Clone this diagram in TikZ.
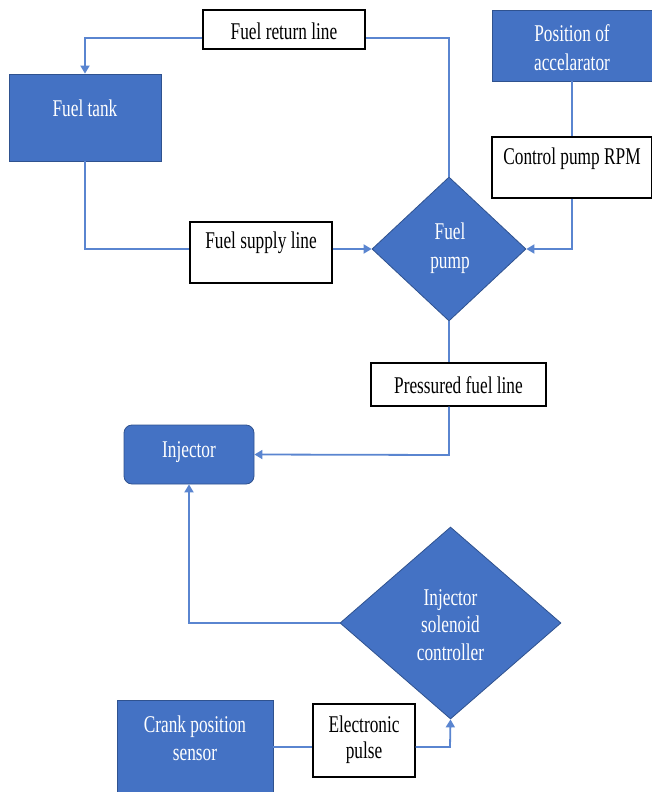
\documentclass[tikz,border=0pt]{standalone}
\usepackage{fontspec}
\newfontfamily\diagfont{Liberation Serif}[FakeStretch=0.72]
\usetikzlibrary{arrows.meta,shapes.geometric}
\definecolor{fillblue}{HTML}{4472C4}
\definecolor{edgeblue}{HTML}{2F528F}
\definecolor{lineblue}{HTML}{5A85D0}
\tikzset{
  bluebox/.style={draw=edgeblue, fill=fillblue, line width=0.8pt, inner sep=0pt},
  whitebox/.style={draw=black, fill=white, line width=1.2pt, inner sep=0pt},
  bluediam/.style={diamond, draw=edgeblue, fill=fillblue, line width=0.8pt, inner sep=0pt},
  wtext/.style={text=white, align=center, inner sep=0pt, font=\diagfont\fontsize{24}{29}\selectfont},
  btext/.style={text=black, align=center, inner sep=0pt, font=\diagfont\fontsize{24}{27}\selectfont},
  conn/.style={draw=lineblue, line width=1.8pt},
  arr/.style={conn, -{Triangle[length=8pt,width=9pt]}},
}
\begin{document}
\begin{tikzpicture}[x=1pt,y=-1pt]
\useasboundingbox (0,0) rectangle (651,792);
% boxes
\node[whitebox, minimum width=162pt, minimum height=39pt] (ret) at (284,29.5) {};
\node[btext] (rett) at (284,31) {Fuel return line};
\node[bluebox, minimum width=152pt, minimum height=87pt] (tank) at (85,117.5) {};
\node[wtext] (tankt) at (85,108) {Fuel tank};
\node[bluebox, minimum width=160pt, minimum height=71pt] (acc) at (572,45.5) {};
\node[wtext] (acct) at (572,48) {Position of\\accelarator};
\node[whitebox, minimum width=160pt, minimum height=61pt] (ctrl) at (572,167.5) {};
\node[btext] (ctrlt) at (572,159) {Control pump RPM};
\node[bluediam, minimum width=154pt, minimum height=144pt] (pump) at (449,249) {};
\node[wtext] (pumpt) at (450,248) {Fuel\\pump};
\node[whitebox, minimum width=142pt, minimum height=61pt] (sup) at (261,252.5) {};
\node[btext] (supt) at (261,243) {Fuel supply line};
\node[whitebox, minimum width=175pt, minimum height=43pt] (press) at (458.5,384.5) {};
\node[btext] (presst) at (458.5,385) {Pressured fuel line};
\node[bluebox, rounded corners=8pt, minimum width=130pt, minimum height=59pt] (inj) at (189,454.5) {};
\node[wtext] (injt) at (189,452) {Injector};
\node[bluediam, minimum width=221pt, minimum height=192pt] (iso) at (450.5,623) {};
\node[wtext, font=\diagfont\fontsize{24}{27.5}\selectfont] (isot) at (450.5,625) {Injector\\solenoid\\controller};
\node[bluebox, minimum width=156pt, minimum height=92pt] (crank) at (195,746) {};
\node[wtext, font=\diagfont\fontsize{24}{28}\selectfont] (crankt) at (195,738) {Crank position\\sensor};
\node[whitebox, minimum width=102pt, minimum height=73pt] (pulse) at (364,740.5) {};
\node[btext, font=\diagfont\fontsize{24}{26}\selectfont] (pulset) at (364,740) {Electronic\\pulse};
% helper coordinates
\coordinate (rl) at (449,38);
\coordinate (fl) at (85,249);
\coordinate (cl) at (572,249);
\coordinate (il) at (449,455);
\coordinate (sl) at (189,623);
\coordinate (pl) at (450,747);
% connectors
\draw[conn] (pump.north) -- (rl) -- (ret.east |- rl);
\draw[arr] (ret.west |- rl) -- (tank.north |- rl) -- (tank.north);
\draw[conn] (tank.south) -- (fl) -- (sup.west |- fl);
\draw[arr] (sup.east |- fl) -- (pump.west);
\draw[conn] (acc.south) -- (ctrl.north);
\draw[arr] (ctrl.south) -- (cl) -- (pump.east);
\draw[conn] (pump.south) -- (pump.south |- press.north);
\draw[arr] (pump.south |- press.south) -- (il) -- (inj.east);
\draw[arr] (iso.west) -- (sl) -- (inj.south);
\draw[conn] (crank.east |- pl) -- (pulse.west |- pl);
\draw[arr] (pulse.east |- pl) -- (pl) -- (iso.south);
\end{tikzpicture}
\end{document}
